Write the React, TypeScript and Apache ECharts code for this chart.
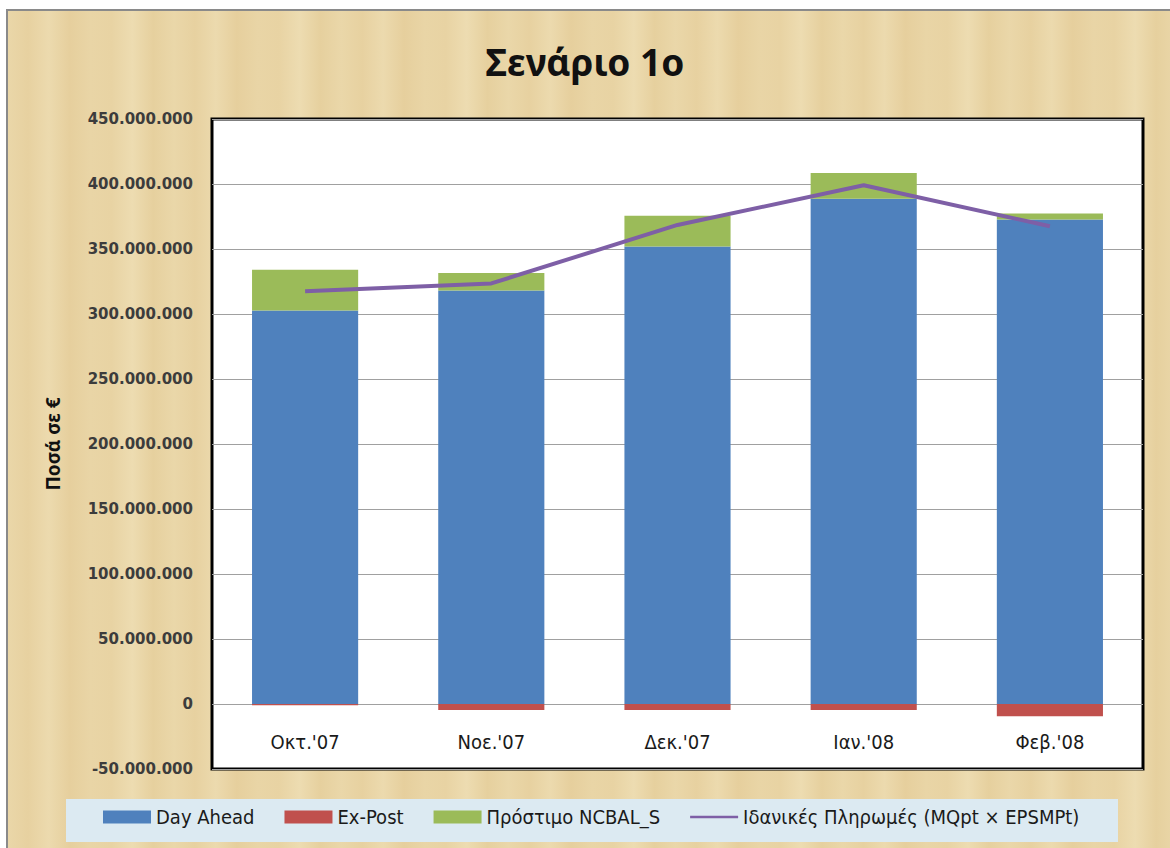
import React, { useEffect, useRef } from "react";
import * as echarts from "echarts";

const categories = ["Οκτ.'07", "Νοε.'07", "Δεκ.'07", "Ιαν.'08", "Φεβ.'08"];
const dayAhead = [302.6e6, 318.0e6, 352.0e6, 388.7e6, 372.7e6];
const exPost = [-1.0e6, -4.6e6, -4.6e6, -4.6e6, -9.5e6];
const penalty = [31.4e6, 13.5e6, 23.6e6, 19.8e6, 4.7e6];
const idealPayments = [317.5e6, 323.5e6, 368.5e6, 399.0e6, 367.5e6];
const seriesNames = ["Day Ahead", "Ex-Post", "Πρόστιμο NCBAL_S", "Ιδανικές Πληρωμές (MQpt × EPSMPt)"];
const yMin = -50e6;
const yMax = 450e6;
const yStep = 50e6;

const COND = "'Liberation Sans Narrow', 'DejaVu Sans Condensed', 'Noto Sans', sans-serif";
const LINE_ICON = "path://M0,0h0.01v0.01h-0.01z M0,5.3h48v2.5h-48z M0,12.99h0.01v0.01h-0.01z";

function fmt(v: number): string {
  const s = String(Math.abs(Math.round(v))).replace(/\B(?=(\d{3})+(?!\d))/g, ".");
  return (v < 0 ? "-" : "") + s;
}

export default function App() {
  const ref = useRef<HTMLDivElement>(null);
  useEffect(() => {
    if (!ref.current) return;
    const chart = echarts.init(ref.current, null, { renderer: "svg" });
    const stops: any[] = [];
    const shades = ["#EAD7A9", "#E7D1A0", "#ECDAAE", "#E6CF9D", "#E9D5A6", "#E8D3A3", "#EDDCB1", "#E6D09E"];
    for (let i = 0; i <= 56; i++) {
      stops.push({ offset: i / 56, color: shades[i % shades.length] });
    }
    chart.setOption({
      animation: false,
      backgroundColor: "#ffffff",
      title: {
        text: "Σενάριο 1ο",
        left: "center",
        top: 38,
        textStyle: { fontFamily: "'Noto Sans', sans-serif", fontWeight: "bold", fontSize: 37, color: "#111" },
      },
      graphic: [
        {
          type: "rect",
          z: -10,
          silent: true,
          shape: { x: 7, y: 10, width: 1170, height: 848 },
          style: {
            fill: { type: "linear", x: 0, y: 0, x2: 1, y2: 0, colorStops: stops },
            stroke: "#8a8a8a",
            lineWidth: 2,
          },
        },
        {
          type: "rect",
          z: -5,
          silent: true,
          shape: { x: 66, y: 799, width: 1052, height: 43 },
          style: { fill: "#DCEAF2" },
        },
      ],
      legend: {
        data: [
          { name: seriesNames[0], icon: "rect" },
          { name: seriesNames[1], icon: "rect" },
          { name: seriesNames[2], icon: "rect" },
          { name: seriesNames[3], icon: LINE_ICON },
        ],
        left: 98,
        top: 802,
        itemWidth: 48,
        itemHeight: 13,
        itemGap: 30,
        textStyle: { fontFamily: COND, fontSize: 20, color: "#1a1a1a" },
      },
      grid: {
        show: true,
        left: 212,
        right: 27,
        top: 119,
        bottom: 79,
        backgroundColor: "#ffffff",
        borderColor: "#000000",
        borderWidth: 3,
        containLabel: false,
      },
      xAxis: {
        type: "category",
        data: categories,
        axisLine: { show: false, onZero: false },
        axisTick: { show: false },
        axisLabel: { margin: -37, fontFamily: COND, fontSize: 20, color: "#1a1a1a" },
      },
      yAxis: {
        type: "value",
        min: yMin,
        max: yMax,
        interval: yStep,
        name: "Ποσά σε €",
        nameLocation: "middle",
        nameRotate: 90,
        nameGap: 150,
        nameTextStyle: { fontFamily: "'Noto Sans', sans-serif", fontWeight: "bold", fontSize: 19, color: "#111" },
        axisLine: { show: false },
        axisTick: { show: false },
        axisLabel: {
          margin: 19,
          formatter: (v: number) => fmt(v),
          fontFamily: "'DejaVu Sans', sans-serif",
          fontWeight: "bold",
          fontSize: 15,
          color: "#3c3c3c",
        },
        splitLine: { lineStyle: { color: "#a0a0a0", width: 1.2 } },
      },
      series: [
        { name: seriesNames[0], type: "bar", stack: "total", barWidth: "57%", data: dayAhead, itemStyle: { color: "#4F81BD" } },
        { name: seriesNames[1], type: "bar", stack: "total", barWidth: "57%", data: exPost, itemStyle: { color: "#C0504D" } },
        { name: seriesNames[2], type: "bar", stack: "total", barWidth: "57%", data: penalty, itemStyle: { color: "#9BBB59" } },
        {
          name: seriesNames[3],
          type: "line",
          data: idealPayments,
          symbol: "none",
          lineStyle: { color: "#7E5FA6", width: 4 },
          itemStyle: { color: "#7E5FA6" },
          z: 5,
        },
      ],
    });
    return () => chart.dispose();
  }, []);
  return <div ref={ref} style={{ position: "fixed", left: 0, top: 0, width: 1170, height: 848 }} />;
}
